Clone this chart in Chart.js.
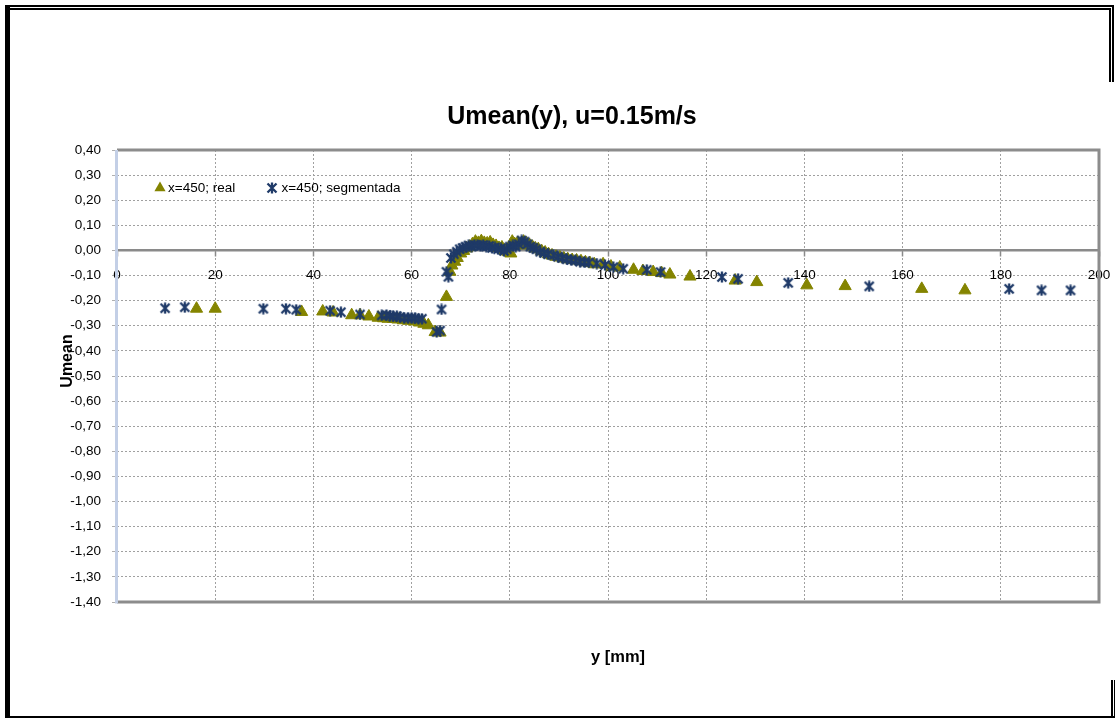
<!DOCTYPE html>
<html><head><meta charset="utf-8">
<script src="https://cdn.jsdelivr.net/npm/chart.js@4.4.1/dist/chart.umd.min.js"></script>
<style>html,body{margin:0;padding:0;background:#fff}#wrap{width:1115px;height:718px;position:relative}</style>
</head><body><div id="wrap"><canvas id="c" width="1115" height="718"></canvas></div>
<script>
const chartTitle = 'Umean(y), u=0.15m/s';
const xAxisTitle = 'y [mm]';
const yAxisTitle = 'Umean';
const seriesNames = ['x=450; real', 'x=450; segmentada'];
const xTickValues = [0, 20, 40, 60, 80, 100, 120, 140, 160, 180, 200];
const yTickValues = [-1.4, -1.3, -1.2, -1.1, -1.0, -0.9, -0.8, -0.7, -0.6, -0.5, -0.4, -0.3, -0.2, -0.1, 0.0, 0.1, 0.2, 0.3, 0.4];

const realYmm = [16.2, 20.0, 37.6, 41.9, 44.0, 47.8, 49.5, 51.3, 53.2, 54.3, 55.2, 56.3, 57.2, 58.3, 59.4, 60.5, 61.6, 62.5, 63.4, 64.8, 65.8, 67.1, 67.8, 68.2, 68.8, 69.3, 70.0, 70.6, 71.2, 71.8, 72.4, 73.0, 73.6, 74.2, 74.8, 75.4, 76.0, 76.6, 77.2, 77.8, 78.4, 79.0, 79.6, 80.2, 80.5, 81.0, 81.6, 82.2, 82.8, 83.4, 84.0, 84.6, 85.2, 85.8, 86.5, 87.2, 87.9, 88.6, 89.4, 90.2, 91.0, 91.8, 92.7, 93.6, 94.5, 95.4, 96.3, 97.2, 99.0, 100.6, 102.4, 105.2, 107.1, 109.2, 110.9, 112.6, 116.7, 125.9, 130.3, 140.5, 148.3, 163.9, 172.7];
const realU = [-0.232, -0.232, -0.245, -0.243, -0.247, -0.258, -0.258, -0.263, -0.268, -0.270, -0.272, -0.273, -0.275, -0.278, -0.280, -0.283, -0.287, -0.292, -0.298, -0.325, -0.327, -0.185, -0.085, -0.060, -0.045, -0.030, -0.012, -0.002, 0.008, 0.015, 0.025, 0.035, 0.030, 0.037, 0.030, 0.028, 0.032, 0.022, 0.018, 0.010, 0.012, 0.000, -0.005, -0.012, 0.035, 0.025, 0.030, 0.020, 0.035, 0.028, 0.022, 0.015, 0.008, 0.005, -0.003, -0.008, -0.015, -0.020, -0.025, -0.028, -0.032, -0.035, -0.038, -0.040, -0.043, -0.047, -0.050, -0.055, -0.055, -0.064, -0.068, -0.077, -0.082, -0.086, -0.090, -0.096, -0.104, -0.120, -0.126, -0.139, -0.142, -0.153, -0.159];

const segYmm = [9.8, 13.8, 29.8, 34.4, 36.5, 43.4, 45.6, 49.5, 53.9, 54.9, 55.6, 56.2, 57.0, 57.6, 58.5, 59.3, 60.0, 60.7, 61.4, 62.1, 65.1, 65.8, 66.1, 67.1, 67.5, 68.0, 68.6, 69.2, 69.8, 70.4, 71.0, 71.6, 72.2, 72.8, 73.4, 74.0, 74.6, 75.2, 75.8, 76.4, 77.0, 77.6, 78.2, 78.8, 79.4, 80.0, 80.6, 81.2, 81.8, 82.4, 83.0, 83.6, 84.2, 84.8, 85.4, 86.2, 87.0, 87.8, 88.9, 89.8, 90.7, 91.6, 92.5, 93.4, 94.3, 95.2, 96.1, 97.7, 99.4, 101.1, 103.1, 107.9, 110.7, 123.2, 126.5, 136.7, 153.2, 181.7, 188.3, 194.2];
const segU = [-0.230, -0.226, -0.232, -0.232, -0.236, -0.240, -0.246, -0.255, -0.259, -0.257, -0.260, -0.263, -0.262, -0.266, -0.268, -0.270, -0.268, -0.270, -0.273, -0.272, -0.325, -0.319, -0.235, -0.085, -0.105, -0.030, -0.015, -0.005, 0.005, 0.010, 0.015, 0.020, 0.015, 0.022, 0.020, 0.018, 0.022, 0.015, 0.018, 0.010, 0.012, 0.005, 0.008, -0.002, 0.005, 0.015, 0.020, 0.015, 0.025, 0.040, 0.035, 0.025, 0.015, 0.010, 0.005, -0.005, -0.010, -0.015, -0.019, -0.025, -0.030, -0.035, -0.038, -0.040, -0.045, -0.047, -0.048, -0.052, -0.058, -0.066, -0.073, -0.077, -0.086, -0.106, -0.113, -0.129, -0.143, -0.153, -0.159, -0.159];

const OLIVE = '#848400';
const NAVY = '#1f3a68';
const FONT = '"Liberation Sans", Arial, sans-serif';

function makeStar() {
  const c = document.createElement('canvas');
  c.width = 12; c.height = 12;
  const g = c.getContext('2d');
  g.strokeStyle = NAVY; g.lineWidth = 2.3;
  g.beginPath();
  g.moveTo(1.5, 1.5); g.lineTo(10.5, 10.5);
  g.moveTo(10.5, 1.5); g.lineTo(1.5, 10.5);
  g.moveTo(6, 0.5); g.lineTo(6, 11.5);
  g.stroke();
  return c;
}
const starImg = makeStar();

const toPoints = (xs, ys) => xs.map((x, i) => ({ x: x, y: ys[i] }));

const decor = {
  id: 'decor',
  beforeDraw(chart) {
    const ctx = chart.ctx;
    ctx.save();
    ctx.fillStyle = '#fff';
    ctx.fillRect(0, 0, chart.width, chart.height);
    ctx.restore();
  },
  afterDraw(chart) {
    const ctx = chart.ctx;
    const a = chart.chartArea;
    ctx.save();
    // plot border (top, right, bottom)
    ctx.strokeStyle = '#8c8c8c';
    ctx.lineWidth = 3;
    ctx.beginPath();
    ctx.moveTo(a.left, a.top); ctx.lineTo(a.right, a.top);
    ctx.lineTo(a.right, a.bottom); ctx.lineTo(a.left, a.bottom);
    ctx.stroke();
    // left axis line (light blue)
    ctx.strokeStyle = '#c3cfe6';
    ctx.beginPath(); ctx.moveTo(a.left - 0.5, a.top); ctx.lineTo(a.left - 0.5, a.bottom + 1.5); ctx.stroke();

    // title
    ctx.fillStyle = '#000';
    ctx.textAlign = 'center'; ctx.textBaseline = 'middle';
    ctx.font = 'bold 25px ' + FONT;
    ctx.fillText(chartTitle, 572, 117);
    // x title
    ctx.font = 'bold 16.5px ' + FONT;
    ctx.fillText(xAxisTitle, 618, 657);
    // y title
    ctx.save();
    ctx.translate(68, 361); ctx.rotate(-Math.PI / 2);
    ctx.font = 'bold 16px ' + FONT;
    ctx.fillText(yAxisTitle, 0, 0);
    ctx.restore();

    // legend
    ctx.font = '13.5px ' + FONT;
    ctx.textAlign = 'left'; ctx.textBaseline = 'middle';
    ctx.fillStyle = OLIVE;
    ctx.beginPath();
    ctx.moveTo(160, 181.5); ctx.lineTo(165.6, 191.2); ctx.lineTo(154.4, 191.2); ctx.closePath();
    ctx.fill();
    ctx.fillStyle = '#000';
    ctx.fillText(seriesNames[0], 168, 188);
    ctx.drawImage(starImg, 272 - 6, 188 - 6);
    ctx.fillText(seriesNames[1], 281.5, 188);

    // outer frame
    ctx.fillStyle = '#000';
    ctx.fillRect(5, 5, 1109, 2);
    ctx.fillRect(8, 8, 1102, 2);
    ctx.fillRect(5, 5, 5, 713);
    ctx.fillRect(1112, 5, 2, 77);
    ctx.fillRect(1109, 8, 2, 74);
    ctx.fillRect(1111, 680, 2, 38);
    ctx.fillRect(1114, 680, 1, 38);
    ctx.fillRect(5, 716, 1110, 2);
    ctx.restore();
  }
};

const fmt = v => (Math.abs(v) < 1e-9 ? 0 : v).toFixed(2).replace('.', ',');

new Chart(document.getElementById('c'), {
  type: 'scatter',
  data: {
    datasets: [
      {
        label: seriesNames[0],
        data: toPoints(realYmm, realU),
        pointStyle: 'triangle',
        pointRadius: 7,
        pointHoverRadius: 7,
        backgroundColor: OLIVE,
        borderColor: OLIVE,
        borderWidth: 1,
        order: 2
      },
      {
        label: seriesNames[1],
        data: toPoints(segYmm, segU),
        pointStyle: starImg,
        pointRadius: 6,
        backgroundColor: NAVY,
        borderColor: NAVY,
        order: 1
      }
    ]
  },
  options: {
    responsive: false,
    animation: false,
    events: [],
    layout: { padding: { left: 0, right: 16, top: 150, bottom: 116 } },
    plugins: { legend: { display: false }, title: { display: false }, tooltip: { enabled: false } },
    scales: {
      x: {
        type: 'linear',
        position: { y: 0 },
        min: 0, max: 200,
        afterBuildTicks: s => { s.ticks = xTickValues.map(v => ({ value: v })); },
        afterFit: s => { s.height = 0; s.paddingLeft = 0; s.paddingRight = 0; },
        ticks: { color: '#000', font: { family: FONT, size: 13.5 }, padding: 12, maxRotation: 0, autoSkip: false, callback: v => String(v) },
        grid: { color: '#a0a0a0', lineWidth: 1, tickLength: 5, tickColor: '#8a8a8a', tickBorderDash: [], tickWidth: 1.5 },
        border: { display: true, color: '#8a8a8a', width: 2.5, dash: [2, 2] }
      },
      y: {
        type: 'linear',
        min: -1.4, max: 0.4,
        afterBuildTicks: s => { s.ticks = yTickValues.map(v => ({ value: v })); },
        afterFit: s => { s.width = 117; s.paddingTop = 0; s.paddingBottom = 0; },
        ticks: { color: '#000', font: { family: FONT, size: 13.5 }, padding: 11, autoSkip: false, callback: v => fmt(v) },
        grid: { color: '#a0a0a0', lineWidth: 1, tickLength: 5, tickColor: '#b0b0b0', tickBorderDash: [], tickWidth: 1 },
        border: { display: false, dash: [2, 2] }
      }
    }
  },
  plugins: [decor]
});
</script>
</body></html>
